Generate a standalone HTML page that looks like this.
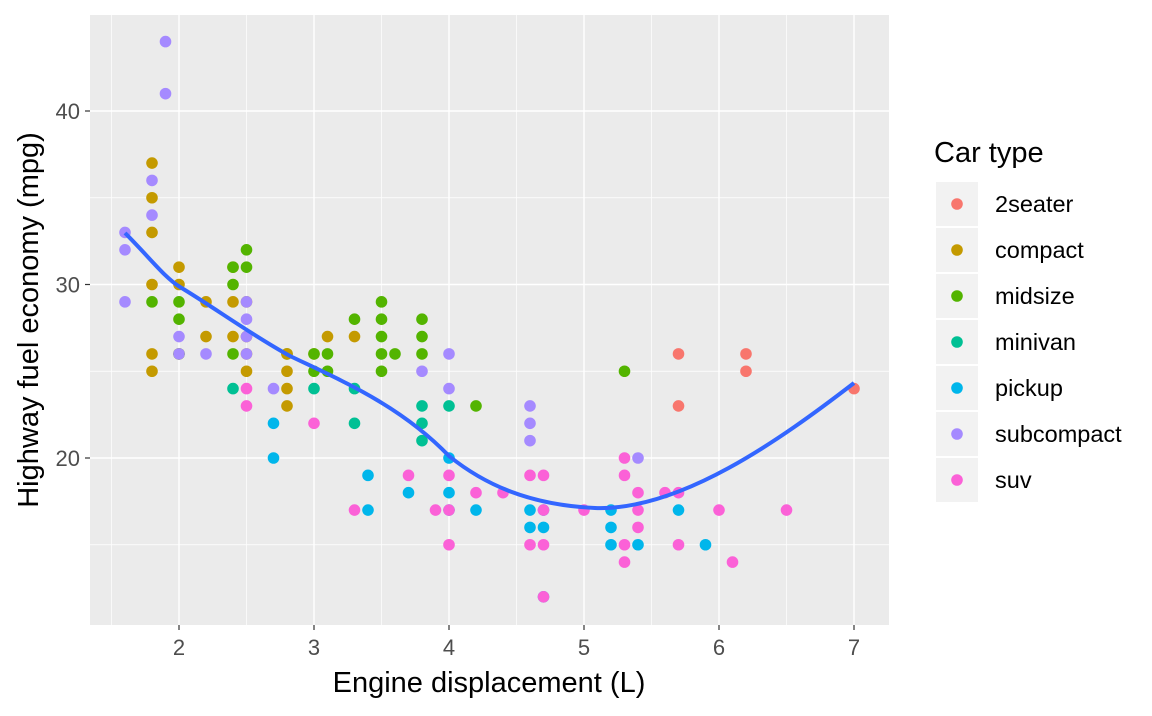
<!DOCTYPE html>
<html><head><meta charset="utf-8"><style>
html,body{margin:0;padding:0;background:#fff;}
svg text{font-family:"Liberation Sans",Arial,sans-serif;}
</style></head><body>
<svg id="s" width="1152" height="711" viewBox="0 0 1152 711" xmlns="http://www.w3.org/2000/svg">
<rect x="90" y="15" width="799" height="610" fill="#EBEBEB"/>
<g id="grid"></g>
<g id="pts"></g>
<path d="M125,233 C150,258 165,278 180,287 C215,308 250,334 290,356 C340,380 400,405 449,456 C485,485 530,505 595,508 C680,511 780,440 854,383" fill="none" stroke="#3366FF" stroke-width="4"/>
<g id="axes" fill="#4D4D4D" font-size="22"></g>
<text x="489" y="692" font-size="29" text-anchor="middle" fill="#000">Engine displacement (L)</text>
<text transform="translate(38,320) rotate(-90)" font-size="29" text-anchor="middle" fill="#000">Highway fuel economy (mpg)</text>
<text x="934" y="162" font-size="29" fill="#000">Car type</text>
<g id="leg"></g>
</svg>
<script>
var NS="http://www.w3.org/2000/svg";
function el(p,t,a,txt){var e=document.createElementNS(NS,t);for(var k in a)e.setAttribute(k,a[k]);if(txt)e.textContent=txt;document.getElementById(p).appendChild(e);}
function X(d){return 179+(d-2)*135;} function Y(h){return 458-(h-20)*17.35;}
for(var d=1.5;d<=7.01;d+=0.5){var maj=Math.abs(d-Math.round(d))<0.01;el('grid','line',{x1:X(d),x2:X(d),y1:15,y2:625,stroke:'#fff','stroke-width':maj?1.4:0.7});}
for(var h=15;h<=40;h+=5){var maj=h%10==0;el('grid','line',{x1:90,x2:889,y1:Y(h),y2:Y(h),stroke:'#fff','stroke-width':maj?1.4:0.7});}
for(var d=2;d<=7;d++){el('axes','line',{x1:X(d),x2:X(d),y1:625,y2:630,stroke:'#333','stroke-width':1.2});el('axes','text',{x:X(d),y:655,'text-anchor':'middle'},''+d);}
[20,30,40].forEach(function(h){el('axes','line',{x1:85,x2:90,y1:Y(h),y2:Y(h),stroke:'#333','stroke-width':1.2});el('axes','text',{x:80,y:Y(h)+8,'text-anchor':'end'},''+h);});
var C={a:'#F8766D',c:'#C49A00',m:'#53B400',v:'#00C094',p:'#00B6EB',s:'#A58AFF',u:'#FB61D7'};
var D=[
[1.6,'s',[33,32,29]],[1.8,'c',[37,35,33,30,26,25]],[1.8,'m',[29]],[1.8,'s',[36,34]],[1.9,'s',[44,41]],
[2.0,'c',[31,30,26]],[2.0,'m',[29,28,26]],[2.0,'s',[27,26]],[2.2,'c',[29,27]],[2.2,'s',[26]],
[2.4,'c',[31,29,27]],[2.4,'m',[31,30,26]],[2.4,'v',[24]],[2.5,'m',[32,31]],[2.5,'c',[29,27,26,25]],[2.5,'s',[29,28,27,26]],[2.5,'u',[24,23]],
[2.7,'p',[22,20]],[2.7,'s',[24]],[2.8,'m',[26]],[2.8,'c',[26,25,24,23]],[3.0,'c',[26]],[3.0,'m',[26,25]],[3.0,'v',[24]],[3.0,'u',[22]],
[3.1,'c',[27]],[3.1,'m',[26,25]],[3.3,'m',[28]],[3.3,'c',[27]],[3.3,'v',[24,22]],[3.3,'u',[17]],[3.4,'p',[19,17]],
[3.5,'m',[29,28,27,26,25]],[3.6,'m',[26]],[3.7,'p',[18]],[3.7,'u',[19]],[3.8,'m',[28,27,26]],[3.8,'s',[25]],[3.8,'v',[23,22,21]],
[3.9,'u',[17]],[4.0,'s',[26,24]],[4.0,'v',[23]],[4.0,'p',[20,18,17]],[4.0,'u',[19,17,15]],[4.2,'m',[23]],[4.2,'u',[18]],[4.2,'p',[17]],
[4.4,'u',[18]],[4.6,'s',[23,22,21]],[4.6,'p',[17,16]],[4.6,'u',[19,15]],[4.7,'p',[17,16,12]],[4.7,'u',[19,17,15,12]],
[5.0,'u',[17]],[5.2,'p',[17,16,15]],[5.3,'m',[25]],[5.3,'u',[20,19,15,14]],[5.4,'s',[20]],[5.4,'u',[18,17,16]],[5.4,'p',[15]],
[5.6,'u',[18]],[5.7,'a',[26,23]],[5.7,'u',[18,15]],[5.7,'p',[17]],[5.9,'p',[15]],[6.0,'u',[17]],[6.1,'u',[14]],[6.2,'a',[26,25]],[6.5,'u',[17]],[7.0,'a',[24]]];
D.forEach(function(r){r[2].forEach(function(h){el('pts','circle',{cx:X(r[0]),cy:Y(h),r:5.8,fill:C[r[1]]});});});
var L=[['a','2seater'],['c','compact'],['m','midsize'],['v','minivan'],['p','pickup'],['s','subcompact'],['u','suv']];
L.forEach(function(l,i){var cy=204+i*46;el('leg','rect',{x:936,y:cy-22,width:42,height:44,fill:'#F2F2F2'});el('leg','circle',{cx:957,cy:cy,r:5.8,fill:C[l[0]]});el('leg','text',{x:995,y:cy+8,'font-size':'23.5',fill:'#000'},l[1]);});
</script>
</body></html>
